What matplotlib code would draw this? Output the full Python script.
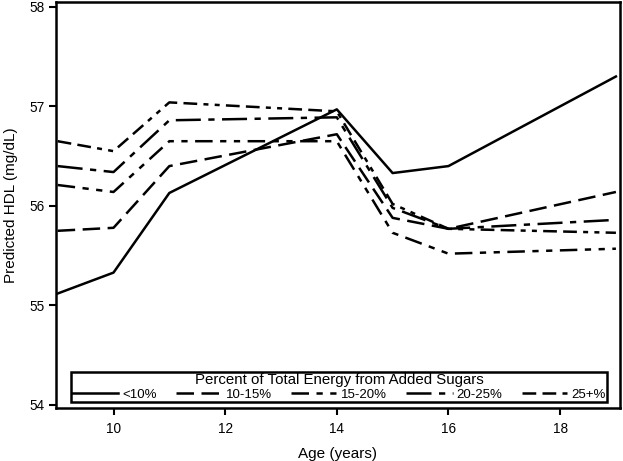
import matplotlib.pyplot as plt

plt.rcParams['font.family'] = ['Liberation Sans', 'DejaVu Sans']

age = [9, 10, 11, 14, 15, 16, 19]
groups = ["<10%", "10-15%", "15-20%", "20-25%", "25+%"]
hdl_lt10 = [55.12, 55.33, 56.13, 56.97, 56.33, 56.40, 57.30]
hdl_10_15 = [55.75, 55.78, 56.40, 56.72, 55.88, 55.77, 56.14]
hdl_15_20 = [56.21, 56.14, 56.65, 56.65, 55.73, 55.52, 55.57]
hdl_20_25 = [56.40, 56.34, 56.86, 56.89, 55.98, 55.77, 55.86]
hdl_25p = [56.65, 56.55, 57.04, 56.95, 56.02, 55.77, 55.73]

series = [hdl_lt10, hdl_10_15, hdl_15_20, hdl_20_25, hdl_25p]
styles = ['-', (0, (7, 3)), (0, (7, 3, 2.5, 3, 2.5, 3)),
          (0, (10, 3, 2.5, 3)), (0, (5.5, 2.5, 5.5, 2.5, 2, 2.5, 2, 2.5))]

fig = plt.figure(figsize=(6.23, 4.61), dpi=100)
ax = fig.add_axes([0.0899, 0.115, 0.905, 0.881])

for vals, ls, lab in zip(series, styles, groups):
    ax.plot(age, vals, color='black', lw=1.8, linestyle=ls, label=lab)

ax.set_xlim(8.97, 19.07)
ax.set_ylim(53.97, 58.05)
ax.set_xticks([10, 12, 14, 16, 18])
ax.set_yticks([54, 55, 56, 57, 58])
ax.tick_params(direction='out', length=5, width=1.5, labelsize=9.8, colors='black')
ax.tick_params(axis='x', pad=5)
for s in ax.spines.values():
    s.set_linewidth(1.8)

ax.set_xlabel("Age (years)", fontsize=11, labelpad=8)
ax.set_ylabel("Predicted HDL (mg/dL)", fontsize=11, labelpad=8)

leg = ax.legend(loc='lower center', bbox_to_anchor=(0.502, 0.014),
                ncol=5, fontsize=9.5, title_fontsize=10.8,
                title="Percent of Total Energy from Added Sugars",
                handlelength=3.5, handletextpad=0.3, borderpad=0.1,
                columnspacing=1.45, fancybox=False, framealpha=1,
                edgecolor='black', borderaxespad=0)
leg.get_frame().set_linewidth(1.8)
leg._legend_box.sep = 1

fig.savefig("out.png", dpi=100)
